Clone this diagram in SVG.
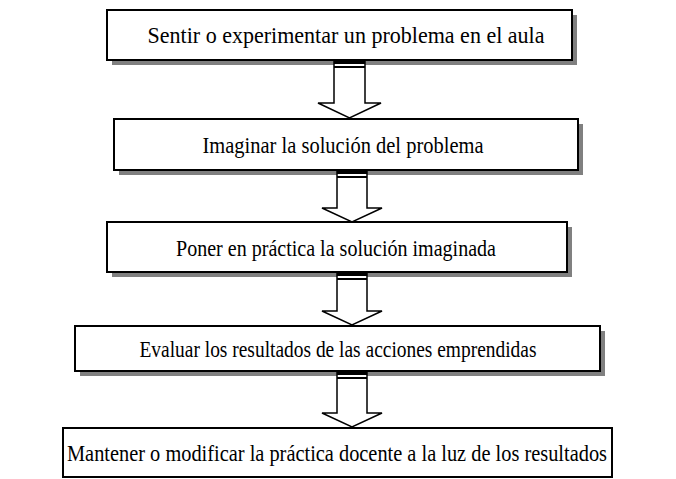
<svg xmlns="http://www.w3.org/2000/svg" width="676" height="479" viewBox="0 0 676 479">
<style>
.shadow{fill:#808080;stroke:none}
.box{fill:#fff;stroke:#000;stroke-width:2}
.lbl{font-family:"Liberation Serif","Times New Roman",serif;font-size:23px;fill:#000;text-anchor:middle}
.arr{fill:#fff;stroke:#000;stroke-width:1.5;stroke-linejoin:miter}
.bar{fill:#000}
</style>
<rect width="676" height="479" fill="#fff"/>
<g id="n1">
  <rect class="shadow" x="112" y="15" width="465" height="50"/>
  <rect class="box" x="107" y="10" width="465" height="50"/>
  <text class="lbl" x="346" y="43" textLength="397" lengthAdjust="spacingAndGlyphs">Sentir o experimentar un problema en el aula</text>
</g>
<g id="n2">
  <rect class="shadow" x="119" y="124" width="464" height="51"/>
  <rect class="box" x="114" y="119" width="464" height="51"/>
  <text class="lbl" x="343" y="153" textLength="281" lengthAdjust="spacingAndGlyphs">Imaginar la solución del problema</text>
</g>
<g id="n3">
  <rect class="shadow" x="112" y="227" width="460" height="50"/>
  <rect class="box" x="107" y="222" width="460" height="50"/>
  <text class="lbl" x="336" y="256" textLength="320" lengthAdjust="spacingAndGlyphs">Poner en práctica la solución imaginada</text>
</g>
<g id="n4">
  <rect class="shadow" x="80" y="331" width="525" height="45"/>
  <rect class="box" x="75" y="326" width="525" height="45"/>
  <text class="lbl" x="338" y="357" textLength="397" lengthAdjust="spacingAndGlyphs">Evaluar los resultados de las acciones emprendidas</text>
</g>
<g id="n5">
  <rect class="box" x="63" y="428" width="549" height="49"/>
  <text class="lbl" x="337" y="461" textLength="540" lengthAdjust="spacingAndGlyphs">Mantener o modificar la práctica docente a la luz de los resultados</text>
</g>
<g id="connectors">
  <g id="a1">
    <path class="arr" d="M334,61 L334,103 L318,103 L349.5,118 L381,103 L365,103 L365,61 Z"/>
    <rect class="bar" x="334" y="61" width="31" height="3"/>
    <rect class="bar" x="334" y="66" width="31" height="2"/>
  </g>
  <g id="a2">
    <path class="arr" d="M337,171 L337,208 L322,208 L352,222 L382,208 L367,208 L367,171 Z"/>
    <rect class="bar" x="337" y="171" width="30" height="3"/>
    <rect class="bar" x="337" y="176" width="30" height="2"/>
  </g>
  <g id="a3">
    <path class="arr" d="M337,273 L337,311 L322,311 L352,325 L382,311 L367,311 L367,273 Z"/>
    <rect class="bar" x="337" y="273" width="30" height="3"/>
    <rect class="bar" x="337" y="278" width="30" height="2"/>
  </g>
  <g id="a4">
    <path class="arr" d="M337,372 L337,413 L322,413 L352,427 L382,413 L367,413 L367,372 Z"/>
    <rect class="bar" x="337" y="372" width="30" height="3"/>
    <rect class="bar" x="337" y="377" width="30" height="2"/>
  </g>
</g>
</svg>
